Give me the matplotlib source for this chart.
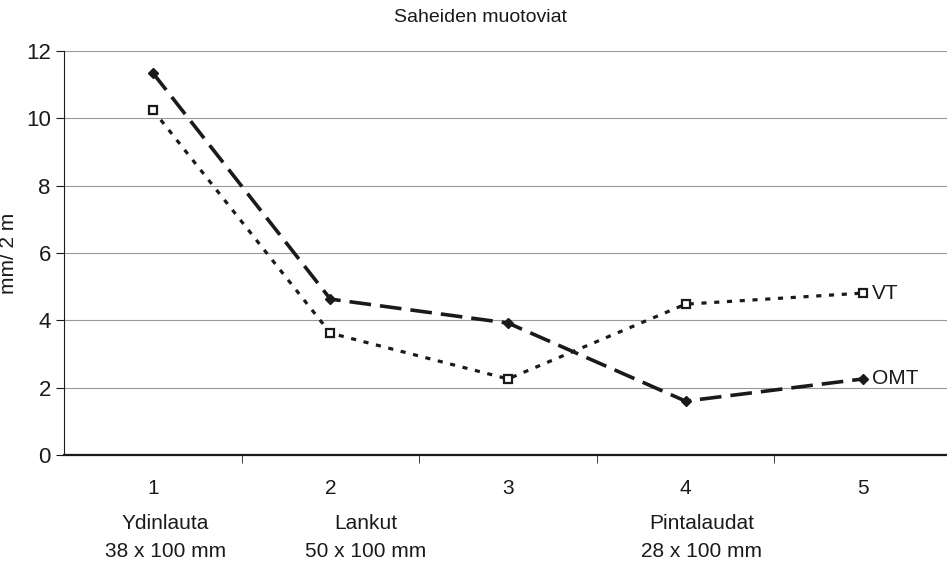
import matplotlib
matplotlib.use("Agg")
import matplotlib.pyplot as plt
import matplotlib.transforms as mtransforms

# Data
categories = [1, 2, 3, 4, 5]
omt = [11.35, 4.63, 3.92, 1.60, 2.26]
vt = [10.25, 3.62, 2.26, 4.48, 4.81]
group_labels = [(1, "Ydinlauta\n38 x 100 mm"), (2, "Lankut\n50 x 100 mm"), (4, "Pintalaudat\n28 x 100 mm")]

plt.rcParams['font.family'] = ['Liberation Sans', 'DejaVu Sans']

fig = plt.figure(figsize=(9.47, 5.64), dpi=100)
ax = fig.add_axes([64/947, (564-455)/564, 888/947, 404/564])

ink = '#1a1a1a'
ax.plot(categories, omt, color=ink, linestyle=(0, (6, 2.5)), linewidth=2.6,
        marker='D', markersize=5, markerfacecolor=ink, markeredgecolor=ink)
ax.plot(categories, vt, color=ink, linestyle=(0, (1.6, 2.4)), linewidth=2.3,
        marker='s', markersize=6, markerfacecolor='white', markeredgecolor=ink, markeredgewidth=1.6)

ax.text(5.05, vt[-1], "VT", fontsize=15, va='center', ha='left', color=ink)
ax.text(5.05, omt[-1], "OMT", fontsize=15, va='center', ha='left', color=ink)

ax.set_xlim(0.5, 5.5)
ax.set_ylim(0, 12)
ax.set_yticks(range(0, 13, 2))
ax.set_yticklabels([str(v) for v in range(0, 13, 2)], fontsize=16)
ax.yaxis.grid(True, color='#999999', linewidth=0.8)
ax.set_axisbelow(True)

ax.set_xticks(categories)
ax.set_xticklabels([str(c) for c in categories], fontsize=15)
ax.tick_params(axis='x', which='major', length=0, pad=17, colors=ink)
ax.set_xticks([1.5, 2.5, 3.5, 4.5, 5.5], minor=True)
ax.tick_params(axis='x', which='minor', length=6, color=ink)
ax.tick_params(axis='y', length=6, color=ink, colors=ink)

trans = mtransforms.blended_transform_factory(ax.transData, ax.transAxes)
offsets = {1: 0.07, 2: 0.2, 4: 0.09}
for pos, lab in group_labels:
    ax.text(pos + offsets[pos], -0.145, lab, transform=trans, ha='center', va='top',
            fontsize=15, color=ink, linespacing=1.6)

for side in ['top', 'right']:
    ax.spines[side].set_visible(False)
ax.spines['left'].set_color(ink)
ax.spines['bottom'].set_color(ink)
ax.spines['bottom'].set_linewidth(1.6)

ax.set_ylabel("mm/ 2 m", fontsize=15, color=ink, labelpad=6)
fig.text(480/947, 1 - 18/564, "Saheiden muotoviat", ha='center', va='center', fontsize=14,
         color=ink)

fig.savefig("out.png", dpi=100)
